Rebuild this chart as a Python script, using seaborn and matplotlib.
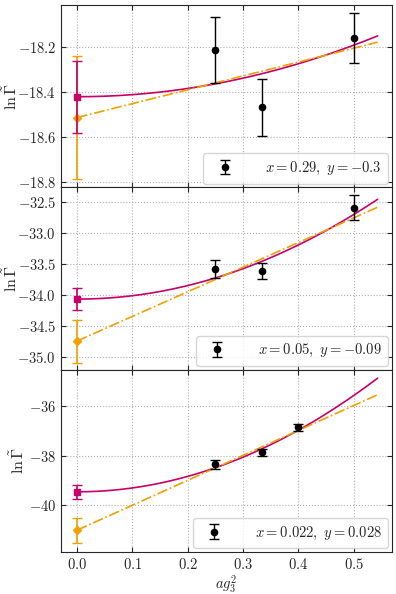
import numpy as np
import matplotlib
matplotlib.use("Agg")
import matplotlib.pyplot as plt
import seaborn as sns

# lattice spacing axis values (ag_3^2) per panel
x_data = [
    [0.25, 1 / 3, 0.5],
    [0.25, 1 / 3, 0.5],
    [0.25, 1 / 3, 0.4],
]
y_data = [
    [-18.21, -18.468, -18.158],
    [-33.585, -33.61, -32.60],
    [-38.34, -37.855, -36.85],
]
y_err = [
    [0.147, 0.128, 0.11],
    [0.14, 0.13, 0.20],
    [0.17, 0.14, 0.15],
]

# continuum extrapolations (value at ag^2 = 0) and errors
quad_c0 = [-18.42, -34.066, -39.45]
quad_err = [0.16, 0.18, 0.28]
quad_c2 = [0.922, 5.44, 15.56]     # coefficient of (ag^2)^2
lin_c0 = [-18.513, -34.74, -41.0]
lin_err = [0.275, 0.345, 0.50]
lin_c1 = [0.62, 3.96, 10.07]       # slope in ag^2

labels = [r"$x = 0.29,\ y = -0.3$", r"$x = 0.05,\ y = -0.09$",
          r"$x = 0.022,\ y = 0.028$"]
ylims = [(-18.825, -18.01), (-35.2, -32.27), (-41.88, -34.52)]
yticks = [[-18.8, -18.6, -18.4, -18.2],
          [-35.0, -34.5, -34.0, -33.5, -33.0, -32.5],
          [-40, -38, -36]]
xticks = [0.0, 0.1, 0.2, 0.3, 0.4, 0.5]
ylabel_x = [-0.124, -0.124, -0.103]

MAGENTA = "#c8006a"
ORANGE = "#f0a000"

sns.set_style("ticks")
plt.rcParams["font.family"] = "cmr10"
plt.rcParams["mathtext.fontset"] = "cm"
plt.rcParams["axes.formatter.use_mathtext"] = True
plt.rcParams["font.size"] = 10.5

fig, axes = plt.subplots(3, 1, figsize=(3.96, 5.94), dpi=100, sharex=True)
fig.subplots_adjust(left=0.154, right=0.99, top=0.9916, bottom=0.0707, hspace=0)

xs = np.linspace(0, 0.543, 200)

for i, ax in enumerate(axes):
    ax.grid(True, linestyle=":", color="#b0b0b0", linewidth=0.8)
    ax.set_axisbelow(True)

    sns.lineplot(x=xs, y=quad_c0[i] + quad_c2[i] * xs ** 2, ax=ax,
                 color=MAGENTA, linewidth=1.2, legend=False)
    sns.lineplot(x=xs, y=lin_c0[i] + lin_c1[i] * xs, ax=ax,
                 color=ORANGE, linewidth=1.2, linestyle="-.", legend=False)

    ax.errorbar([0.0], [lin_c0[i]], yerr=[lin_err[i]], fmt="D", color=ORANGE,
                markersize=4, capsize=3.5, elinewidth=1.2, zorder=4)
    ax.errorbar([0.0], [quad_c0[i]], yerr=[quad_err[i]], fmt="s", color=MAGENTA,
                markersize=4.5, capsize=3.5, elinewidth=1.2, zorder=5)
    ax.errorbar(x_data[i], y_data[i], yerr=y_err[i], fmt="o", color="black",
                markersize=4.5, capsize=3.5, elinewidth=1.0, zorder=6,
                label=labels[i])

    ax.set_ylim(*ylims[i])
    ax.set_yticks(yticks[i])
    ax.set_xlim(-0.029, 0.569)
    ax.set_xticks(xticks)
    ax.tick_params(direction="in", top=True, right=True, labelsize=10.5)
    ax.set_ylabel(r"$\ln\tilde{\Gamma}$", fontsize=11.5)
    ax.yaxis.set_label_coords(ylabel_x[i], 0.5)
    ax.legend(loc="lower right", fontsize=10.5, handletextpad=1.8,
              borderpad=0.45, borderaxespad=0.25, framealpha=0.8)

axes[0].yaxis.set_major_formatter(matplotlib.ticker.FormatStrFormatter("$%.1f$"))
axes[1].yaxis.set_major_formatter(matplotlib.ticker.FormatStrFormatter("$%.1f$"))
axes[2].yaxis.set_major_formatter(matplotlib.ticker.FormatStrFormatter("$%d$"))
axes[2].xaxis.set_major_formatter(matplotlib.ticker.FormatStrFormatter("$%.1f$"))
axes[2].set_xlabel(r"$ag_3^2$", fontsize=10.5, labelpad=1)

fig.savefig("out.png", dpi=100)
